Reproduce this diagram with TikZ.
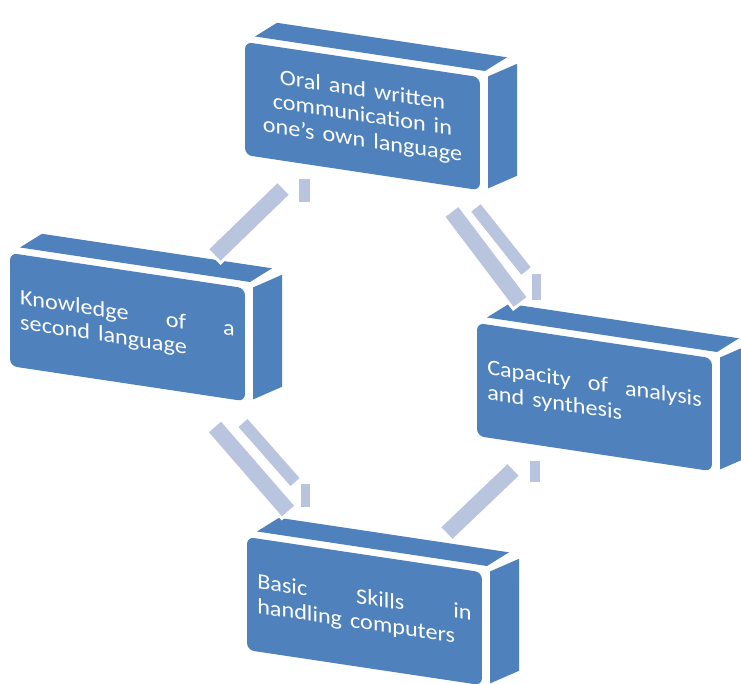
\documentclass[tikz,border=0pt]{standalone}
\usepackage{fontspec}
\setmainfont{Carlito}
\definecolor{boxblue}{RGB}{79,129,189}
\definecolor{barblue}{RGB}{185,196,222}

\newcommand{\cube}[4]{%
  \begin{scope}[shift={#2}, yslant=-0.15]
    \fill[face] (10,-7) -- (240,-7) -- (262,-24) -- (32,-24) -- cycle;
    \fill[face] (243,-2) -- (272,-19) -- (272,93) -- (243,110) -- cycle;
    \node[front, align=#3] (#1) at (117.5,56.5) {#4};
  \end{scope}}

\begin{document}
\begin{tikzpicture}
[
    x=1pt, y=-1pt,
    face/.style={fill=boxblue},
    front/.style={fill=boxblue, rounded corners=7pt, transform shape, xscale=1.1,
        text=white, font=\fontsize{22}{25}\selectfont, text width=195pt,
        inner xsep=9.3pt, inner ysep=0pt, minimum height=113pt},
    bar/.style={draw=barblue, line width=#1,
        preaction={draw=white, line width=#1+6pt, shorten <=-3pt, shorten >=-3pt}},
]
\useasboundingbox (0,0) rectangle (741,684);
\clip (0,0) rectangle (741,684);

\cube{oral}{(245,42)}{center}{Oral and written\\communication in\\one's own language}
\cube{knowledge}{(10,253)}{left}{Knowledge \hfill of \hfill a\\second language}
\cube{capacity}{(477,323)}{left}{Capacity \hfill of \hfill analysis\\and synthesis}
\cube{basic}{(247,537)}{left}{Basic \hfill Skills \hfill in\\handling computers}

\coordinate (ko1) at (215,255);
\coordinate (ko2) at (283,189);
\coordinate (ko3) at (304,179);
\coordinate (ko4) at (304,202);
\coordinate (oc1) at (452,212);
\coordinate (oc2) at (520,302);
\coordinate (oc3) at (476,208);
\coordinate (oc4) at (526,271);
\coordinate (oc5) at (536,274);
\coordinate (oc6) at (536,300);
\coordinate (kb1) at (215,427);
\coordinate (kb2) at (288,511);
\coordinate (kb3) at (243,423);
\coordinate (kb4) at (295,482);
\coordinate (kb5) at (305,484);
\coordinate (kb6) at (305,507);
\coordinate (cb1) at (447,533);
\coordinate (cb2) at (513,470);
\coordinate (cb3) at (535,461);
\coordinate (cb4) at (535,482);

\draw[bar=16pt] (ko1) -- (ko2);
\draw[bar=11pt] (ko3) -- (ko4);
\draw[bar=16pt] (oc1) -- (oc2);
\draw[bar=12pt] (oc3) -- (oc4);
\draw[bar=9pt] (oc5) -- (oc6);
\draw[bar=16pt] (kb1) -- (kb2);
\draw[bar=12pt] (kb3) -- (kb4);
\draw[bar=9pt] (kb5) -- (kb6);
\draw[bar=16pt] (cb1) -- (cb2);
\draw[bar=10pt] (cb3) -- (cb4);
\end{tikzpicture}
\end{document}
